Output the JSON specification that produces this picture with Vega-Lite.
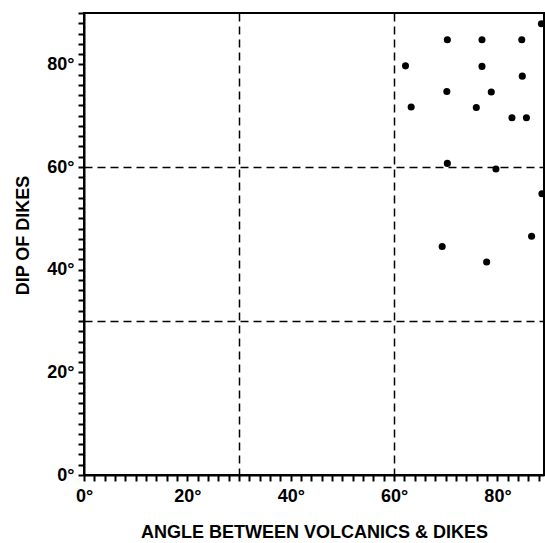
{
  "$schema": "https://vega.github.io/schema/vega-lite/v6.json",
  "width": 460,
  "height": 462,
  "autosize": {"type": "none"},
  "padding": {"left": 84, "top": 13, "right": 1, "bottom": 68},
  "background": "white",
  "config": {
    "view": {"stroke": "black", "strokeWidth": 2}
  },
  "data": {"values": [
    {"angle": 88.5, "dip": 87.9},
    {"angle": 70.3, "dip": 84.8},
    {"angle": 77.0, "dip": 84.8},
    {"angle": 84.7, "dip": 84.8},
    {"angle": 62.2, "dip": 79.7},
    {"angle": 77.0, "dip": 79.6},
    {"angle": 84.8, "dip": 77.7},
    {"angle": 70.2, "dip": 74.7},
    {"angle": 78.8, "dip": 74.6},
    {"angle": 63.3, "dip": 71.7},
    {"angle": 75.9, "dip": 71.6},
    {"angle": 82.8, "dip": 69.6},
    {"angle": 85.6, "dip": 69.6},
    {"angle": 70.3, "dip": 60.7},
    {"angle": 79.7, "dip": 59.6},
    {"angle": 88.6, "dip": 54.8},
    {"angle": 86.6, "dip": 46.5},
    {"angle": 69.3, "dip": 44.5},
    {"angle": 77.9, "dip": 41.5}
  ]},
  "mark": {"type": "point", "filled": true, "color": "black", "opacity": 1, "size": 50},
  "encoding": {
    "x": {
      "field": "angle", "type": "quantitative",
      "scale": {"domain": [0, 89], "nice": false, "zero": false},
      "axis": {
        "values": [0,2,4,6,8,10,12,14,16,18,20,22,24,26,28,30,32,34,36,38,40,42,44,46,48,50,52,54,56,58,60,62,64,66,68,70,72,74,76,78,80,82,84,86,88],
        "labelExpr": "datum.value % 20 === 0 ? datum.value + '°' : ''",
        "labelOverlap": false, "labelBound": false, "labelFlush": false,
        "labelFont": "Liberation Sans", "labelFontWeight": "bold", "labelFontSize": 18, "labelColor": "black",
        "domainColor": "black", "domainWidth": 2,
        "ticks": true, "tickColor": "black", "tickWidth": 2, "tickSize": 6,
        "grid": true, "gridColor": "black", "gridWidth": 1.5, "gridDash": [8, 5],
        "gridOpacity": {"condition": {"test": "datum.value === 30 || datum.value === 60", "value": 1}, "value": 0},
        "labelPadding": 6, "labelDx": 2,
        "title": "ANGLE BETWEEN VOLCANICS & DIKES",
        "titleFont": "Liberation Sans", "titleFontWeight": "bold", "titleColor": "black",
        "titleFontSize": 18, "titlePadding": 18
      }
    },
    "y": {
      "field": "dip", "type": "quantitative",
      "scale": {"domain": [0, 90], "nice": false, "zero": false},
      "axis": {
        "values": [0,2,4,6,8,10,12,14,16,18,20,22,24,26,28,30,32,34,36,38,40,42,44,46,48,50,52,54,56,58,60,62,64,66,68,70,72,74,76,78,80,82,84,86,88,90],
        "labelExpr": "datum.value % 20 === 0 && datum.value < 90 ? datum.value + '°' : ''",
        "labelOverlap": false, "labelBound": false, "labelFlush": false,
        "labelFont": "Liberation Sans", "labelFontWeight": "bold", "labelFontSize": 18, "labelColor": "black",
        "domainColor": "black", "domainWidth": 2,
        "ticks": true, "tickColor": "black", "tickWidth": 2, "tickSize": 6,
        "grid": true, "gridColor": "black", "gridWidth": 1.5, "gridDash": [8, 5],
        "gridOpacity": {"condition": {"test": "datum.value === 30 || datum.value === 60", "value": 1}, "value": 0},
        "labelPadding": 4,
        "title": "DIP OF DIKES",
        "titleFont": "Liberation Sans", "titleFontWeight": "bold", "titleColor": "black",
        "titleFontSize": 18, "titlePadding": 14, "titleY": 222
      }
    }
  }
}
